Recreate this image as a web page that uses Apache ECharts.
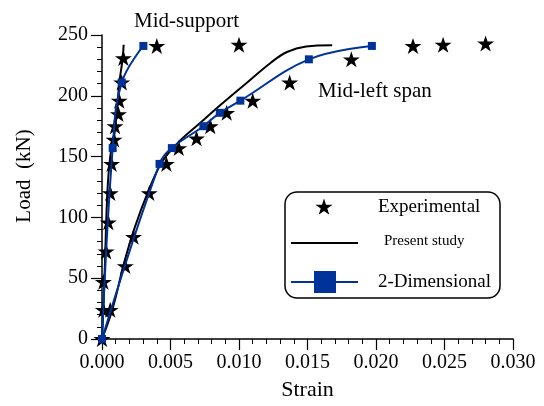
<!DOCTYPE html>
<html>
<head>
<meta charset="utf-8">
<script src="https://cdn.jsdelivr.net/npm/echarts@6/dist/echarts.min.js"></script>
<style>
html,body{margin:0;padding:0;background:#fff;}
#chart{width:544px;height:406px;}
</style>
</head>
<body>
<div id="chart"></div>
<script>
// ---- Data ----
var xTicks = [0, 0.005, 0.010, 0.015, 0.020, 0.025, 0.030];
var yTicks = [0, 50, 100, 150, 200, 250];

// Experimental - mid-support
var expMidSupportStrain = [0, 0.0001, 0.0001, 0.0003, 0.00046, 0.0006, 0.0007, 0.00088, 0.00095, 0.0012, 0.00126, 0.00144, 0.00156, 0.0040, 0.0100];
var expMidSupportLoad   = [0, 24, 47, 72, 96, 120, 144, 164, 175, 185, 196, 211, 231, 241, 242];

// Experimental - mid-left span
var expMidLeftStrain = [0.0006, 0.0017, 0.0023, 0.00345, 0.0047, 0.0056, 0.0069, 0.0079, 0.0091, 0.0110, 0.0137, 0.0182, 0.0227, 0.0249, 0.0280];
var expMidLeftLoad   = [24, 60, 84, 120, 144, 157, 165, 175, 186, 196, 211, 230, 241, 242, 243];

// Present study - mid-support
var psMidSupportStrain = [0, 0.0001, 0.0002, 0.00039, 0.0006, 0.00095, 0.00126, 0.00151, 0.00158];
var psMidSupportLoad   = [0, 25, 57, 120, 150, 172, 210, 231, 242];

// Present study - mid-left span
var psMidLeftStrain = [0, 0.0008, 0.0016, 0.0024, 0.0034, 0.0044, 0.0056, 0.0072, 0.0086, 0.0106, 0.0123, 0.0135, 0.0149, 0.0168];
var psMidLeftLoad   = [0, 26, 62, 92, 122, 146, 162, 178, 192, 211, 227, 236, 240.5, 241.5];

// 2-Dimensional - mid-support
var twoDMidSupportStrain = [0, 0.00078, 0.00144, 0.00302];
var twoDMidSupportLoad   = [0, 157, 211, 241];

// 2-Dimensional - mid-left span
var twoDMidLeftStrain = [0, 0.0042, 0.0051, 0.0074, 0.0086, 0.0101, 0.0151, 0.0197];
var twoDMidLeftLoad   = [0, 144, 157, 175, 186, 196, 230, 241];

function zip(a, b) { return a.map(function (v, i) { return [v, b[i]]; }); }

var STAR = 'path://M50 0 L61.23 34.55 L97.55 34.55 L68.17 55.9 L79.39 90.45 L50 69.1 L20.61 90.45 L31.83 55.9 L2.45 34.55 L38.77 34.55 Z';
var BLUE = '#00339a';
var FONT = '"Liberation Serif", "Times New Roman", serif';

function starPoints(cx, cy, R) {
  var r = R * 0.382, pts = [];
  for (var i = 0; i < 10; i++) {
    var a = -Math.PI / 2 + i * Math.PI / 5;
    var rr = i % 2 === 0 ? R : r;
    pts.push([cx + rr * Math.cos(a), cy + rr * Math.sin(a)]);
  }
  return pts;
}

var chart = echarts.init(document.getElementById('chart'), null, {renderer: 'canvas'});
chart.setOption({
  backgroundColor: '#fff',
  animation: false,
  grid: {left: 102, right: 31, top: 35, bottom: 64, containLabel: false},
  xAxis: {
    type: 'value', min: xTicks[0], max: xTicks[xTicks.length - 1], interval: 0.005,
    name: 'Strain', nameLocation: 'middle', nameGap: 40,
    nameTextStyle: {fontFamily: FONT, fontSize: 22, color: '#000'},
    axisLine: {show: true, onZero: false, lineStyle: {color: '#000', width: 1.5}},
    axisTick: {show: true, inside: false, length: 11, lineStyle: {color: '#000', width: 1.2}},
    minorTick: {show: true, splitNumber: 5, length: 5, lineStyle: {color: '#000', width: 1}},
    splitLine: {show: false},
    axisLabel: {fontFamily: FONT, fontSize: 20, color: '#000', margin: 14,
      formatter: function (v) { return v.toFixed(3); }}
  },
  yAxis: {
    type: 'value', min: yTicks[0], max: yTicks[yTicks.length - 1], interval: 50,
    axisLine: {show: true, onZero: false, lineStyle: {color: '#000', width: 1.5}},
    axisTick: {show: true, inside: false, length: 11, lineStyle: {color: '#000', width: 1.2}},
    minorTick: {show: true, splitNumber: 5, length: 5, lineStyle: {color: '#000', width: 1}},
    splitLine: {show: false},
    axisLabel: {fontFamily: FONT, fontSize: 20, color: '#000', margin: 14}
  },
  series: [
    {type: 'line', name: 'Present study (mid-support)', data: zip(psMidSupportStrain, psMidSupportLoad),
      showSymbol: false, smooth: 0.4, lineStyle: {color: '#000', width: 2}, z: 2},
    {type: 'line', name: 'Present study (mid-left)', data: zip(psMidLeftStrain, psMidLeftLoad),
      showSymbol: false, smooth: 0.4, lineStyle: {color: '#000', width: 2}, z: 2},
    {type: 'scatter', name: 'Experimental (mid-support)', data: zip(expMidSupportStrain, expMidSupportLoad),
      symbol: STAR, symbolSize: [17, 16], itemStyle: {color: '#000', opacity: 1}, z: 3},
    {type: 'scatter', name: 'Experimental (mid-left)', data: zip(expMidLeftStrain, expMidLeftLoad),
      symbol: STAR, symbolSize: [17, 16], itemStyle: {color: '#000', opacity: 1}, z: 3},
    {type: 'line', name: '2-Dimensional (mid-support)', data: zip(twoDMidSupportStrain, twoDMidSupportLoad),
      symbol: 'rect', symbolSize: 8, showSymbol: true, smooth: 0.4,
      lineStyle: {color: BLUE, width: 2}, itemStyle: {color: BLUE}, z: 4},
    {type: 'line', name: '2-Dimensional (mid-left)', data: zip(twoDMidLeftStrain, twoDMidLeftLoad),
      symbol: 'rect', symbolSize: 8, showSymbol: true, smooth: 0.4,
      lineStyle: {color: BLUE, width: 2}, itemStyle: {color: BLUE}, z: 4}
  ],
  graphic: [
    {type: 'text', x: 24, y: 176, rotation: Math.PI / 2,
      style: {text: 'Load  (kN)', fontFamily: FONT, fontSize: 21, fill: '#000', textAlign: 'center', textVerticalAlign: 'middle'}},
    {type: 'text', x: 134, y: 21,
      style: {text: 'Mid-support', fontFamily: FONT, fontSize: 21, fill: '#000', textAlign: 'left', textVerticalAlign: 'middle'}},
    {type: 'text', x: 318, y: 91,
      style: {text: 'Mid-left span', fontFamily: FONT, fontSize: 21, fill: '#000', textAlign: 'left', textVerticalAlign: 'middle'}},
    {type: 'rect', shape: {x: 285, y: 192, width: 215, height: 106, r: 12},
      style: {fill: '#fff', stroke: '#000', lineWidth: 1.5}, z: 10},
    {type: 'polygon', shape: {points: starPoints(324, 207.5, 9)}, style: {fill: '#000'}, z: 11},
    {type: 'text', x: 378, y: 207, z: 11,
      style: {text: 'Experimental', fontFamily: FONT, fontSize: 19, fill: '#000', textAlign: 'left', textVerticalAlign: 'middle'}},
    {type: 'line', shape: {x1: 291, y1: 243, x2: 358, y2: 243}, style: {stroke: '#000', lineWidth: 2}, z: 11},
    {type: 'text', x: 384, y: 241, z: 11,
      style: {text: 'Present study', fontFamily: FONT, fontSize: 15, fill: '#000', textAlign: 'left', textVerticalAlign: 'middle'}},
    {type: 'line', shape: {x1: 291, y1: 282, x2: 358, y2: 282}, style: {stroke: BLUE, lineWidth: 2}, z: 11},
    {type: 'rect', shape: {x: 314, y: 271, width: 22, height: 22}, style: {fill: BLUE}, z: 12},
    {type: 'text', x: 378, y: 282, z: 11,
      style: {text: '2-Dimensional', fontFamily: FONT, fontSize: 19, fill: '#000', textAlign: 'left', textVerticalAlign: 'middle'}}
  ]
});
</script>
</body>
</html>
